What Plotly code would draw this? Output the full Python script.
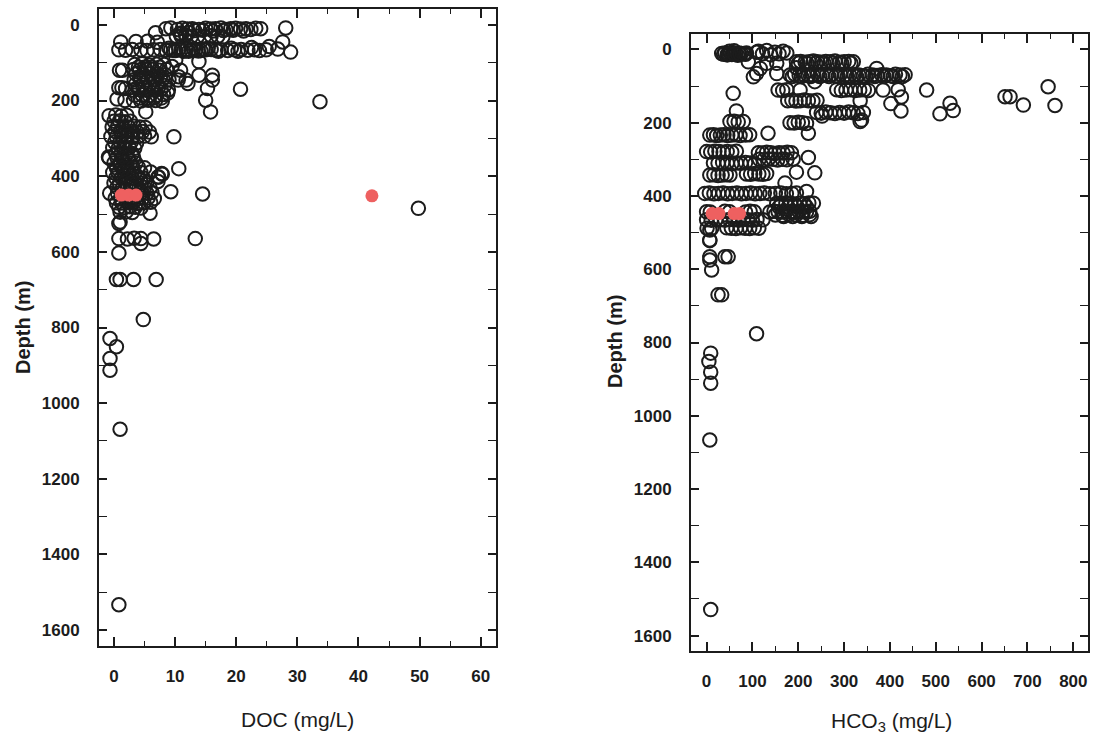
import plotly.graph_objects as go

# ---- DOC profile (left panel) ----
doc_mgL = [
    # near-surface rows
    8.5, 9.3, 10.4, 11.2, 12.0, 12.8, 13.9, 15.0, 15.8, 16.6, 17.5, 18.3, 19.1, 19.9, 20.7, 21.6, 22.4, 23.2, 24.0, 28.1,
    13.2, 14.5, 16.2, 17.9, 19.5, 21.2, 10.9, 11.7,
    6.8, 10.8, 12.2,
    10.2, 11.0, 11.8, 12.6, 13.7, 14.8, 15.9, 17.0, 17.8,
    1.1, 3.6, 5.5, 7.1, 27.6,
    0.8, 1.9, 3.0, 4.4, 5.4, 6.5, 7.6, 8.5, 9.3, 10.1, 11.0, 11.8, 12.6, 13.4, 14.2, 15.0, 15.9, 16.7, 17.5, 18.6,
    19.7, 20.8, 21.9, 23.0, 23.8, 24.9, 26.8, 28.9,
    9.8, 10.6, 12.2, 13.0, 13.8, 14.6, 22.5, 25.4,
    9.0, 11.4, 15.4, 17.1, 19.2, 20.3,
    # 100-220 m block
    3.4, 4.6, 5.8, 7.0, 8.2,
    3.2, 4.2, 5.2, 6.3, 7.4, 8.6,
    3.6, 4.8, 6.0, 7.2, 8.4,
    3.3, 4.4, 5.6, 6.8, 8.0, 9.0,
    3.5, 4.7, 5.9, 7.1, 8.3,
    3.0, 4.1, 5.3, 6.5, 7.7, 8.9,
    3.4, 4.6, 5.8, 7.0, 8.1,
    3.2, 4.4, 5.6, 6.8, 7.9,
    4.0, 5.0, 6.1, 7.5, 4.2, 5.3, 6.4, 7.6, 3.9, 5.1, 6.2, 7.3, 4.3, 5.5, 6.6, 7.8,
    0.9, 1.4, 0.8, 1.3, 1.9, 0.5, 1.8,
    10.1, 10.9, 10.6, 12.1, 13.9, 13.9, 16.1, 16.1, 15.3, 15.0, 15.8, 20.7, 5.2, 33.7, 11.8, 10.5, 9.5, 8.8,
    # 240-500 m column
    -0.8, 0.3, 1.2, 2.1,
    0.0, 0.9, 1.8, 2.7,
    -0.3, 0.6, 1.5, 2.4, 3.3, 4.2, 5.1,
    0.2, 1.1, 2.0, 2.9, 3.8, 4.7, 5.8,
    -0.5, 0.4, 1.3, 2.2, 3.1, 4.0, 5.0, 6.1,
    0.1, 1.0, 1.9, 2.8, 3.7,
    -0.2, 0.7, 1.6, 2.5, 3.4,
    0.3, 1.2, 2.1, 3.0,
    -0.8, 0.5, 1.4, 2.3, 3.2,
    0.0, 0.9, 1.8, 2.7, 3.6,
    0.4, 1.3, 2.2, 3.1, 4.0, 5.0,
    -0.2, 0.7, 1.6, 2.5, 3.4, 4.4, 6.0,
    0.3, 1.2, 2.1, 3.0, 3.9, 4.8, 7.2,
    0.0, 0.9, 1.8, 2.7, 3.6, 4.5, 5.4,
    0.5, 1.4, 2.3, 3.2, 4.1, 5.0, 5.9,
    -0.7, 0.6, 4.5, 5.4, 6.2,
    0.2, 1.1, 2.0, 2.9, 3.8, 4.7, 5.6, 6.6,
    0.4, 1.3, 2.2, 3.1, 4.0, 4.9, 6.0,
    0.8, 1.7, 2.6, 3.5, 4.4,
    1.0, 2.0, 3.0, 5.9,
    9.8, 10.6, 9.3, 14.5, 7.9, 7.3, 7.8, 7.2, 49.8, -0.9,
    # deeper samples
    0.8, 1.0,
    0.8, 2.2, 3.3, 4.4, 6.5, 13.3, 4.4, 0.8,
    0.4, 1.0, 3.2, 6.9,
    4.8, -0.65, 0.4, -0.65, -0.65, 1.0, 0.8,
]
doc_depth_m = [
    10, 8, 12, 9, 11, 10, 12, 9, 11, 10, 8, 12, 10, 9, 11, 10, 12, 9, 10, 8,
    15, 14, 16, 15, 14, 16, 24, 26,
    21, 22, 20,
    30, 31, 29, 32, 30, 31, 29, 30, 32,
    45, 44, 43, 46, 45,
    66, 67, 65, 66, 68, 66, 65, 67, 66, 68, 66, 65, 67, 66, 68, 66, 65, 67, 66, 68,
    66, 65, 67, 66, 68, 66, 64, 72,
    68, 64, 70, 63, 69, 64, 60, 57,
    62, 70, 62, 70, 62, 70,
    105, 103, 106, 104, 105,
    118, 119, 117, 118, 120, 118,
    130, 131, 129, 130, 132,
    145, 144, 146, 145, 143, 145,
    158, 159, 157, 158, 160,
    172, 171, 173, 172, 170, 172,
    186, 185, 187, 186, 184,
    200, 201, 199, 200, 202,
    112, 112, 112, 112, 138, 138, 138, 138, 165, 165, 165, 165, 193, 193, 193, 193,
    120, 120, 166, 166, 168, 196, 200,
    93, 120, 137, 155, 97, 133, 133, 146, 168, 199, 230, 170, 230, 203, 146, 146, 110, 180,
    240, 238, 241, 239,
    255, 254, 256, 255,
    270, 269, 271, 270, 268, 270, 271,
    282, 283, 281, 282, 284, 282, 283,
    295, 296, 294, 295, 297, 295, 294, 296,
    310, 309, 311, 310, 312,
    325, 326, 324, 325, 326,
    340, 339, 341, 340,
    352, 351, 353, 352, 350,
    365, 366, 364, 365, 366,
    378, 377, 379, 378, 376, 378,
    390, 391, 389, 390, 392, 390, 389,
    405, 404, 406, 405, 403, 405, 402,
    418, 419, 417, 418, 420, 418, 417,
    430, 431, 429, 430, 432, 430, 431,
    445, 446, 444, 445, 443,
    458, 459, 457, 458, 460, 458, 457, 459,
    470, 471, 469, 470, 472, 470, 469,
    482, 483, 481, 482, 484,
    495, 494, 496, 498,
    296, 380, 441, 447, 395, 402, 393, 414, 485, 349,
    525, 521,
    565, 566, 564, 565, 566, 565, 578, 603,
    673, 673, 673, 673,
    779, 829, 851, 882, 913, 1069, 1533,
]
doc_hl_mgL = [1.2, 2.4, 3.6, 42.2]
doc_hl_depth_m = [450, 450, 450, 452]

# ---- HCO3 profile (right panel) ----
hco3_mgL = [
    33, 40, 46, 52, 58, 64, 70, 76, 82, 87, 50, 60, 45, 55, 68,
    37, 49, 61, 73, 85,
    109, 113, 122, 131, 140, 149, 158, 167, 175,
    91, 102, 109, 117, 131, 153, 153,
    196, 205, 215, 224, 233, 242, 251, 260, 270, 280, 290, 300, 310, 320,
    200, 219, 238, 256, 275, 295, 315,
    196,
    182, 192, 202, 212, 222, 232, 242, 252, 262, 272, 282, 292, 302, 312, 322, 332, 342, 352, 362, 372,
    382, 392, 402, 412, 422, 433,
    187, 207, 227, 247, 267, 287, 307, 327, 347, 367, 387, 407, 427,
    371, 236,
    156, 166, 175, 204, 284, 294, 304, 314, 324, 334, 344, 353, 385, 418, 480,
    745, 651, 662, 691, 760, 509, 531, 538, 425, 402, 424, 58,
    177, 186, 195, 204, 213, 222, 232, 241, 335,
    240, 250, 260, 270, 280, 290, 300, 310, 320, 330, 342, 252, 338, 335,
    182, 191, 200, 209, 218, 222,
    65, 134,
    # shallow-intermediate wells
    51, 60, 69, 80,
    7, 15, 22, 30, 38, 46, 55, 64, 73, 85, 94,
    0, 9, 18, 27, 36, 45, 55, 65,
    113, 122, 131, 140, 149, 158, 167, 176, 185,
    115, 125, 135, 145, 155, 165, 175, 189, 222,
    15, 25, 35, 45, 55, 65, 75, 85, 95, 105,
    7, 16, 25, 34, 43, 51,
    87, 96, 105, 114, 123, 131, 196, 236,
    171,
    -4, 6, 16, 26, 36, 46, 56, 66, 76, 86, 96, 106, 116, 126, 138, 150, 162, 174, 186, 196, 218,
    153, 163, 173, 183, 193, 203, 213, 223, 233,
    158, 178, 198, 218, 168, 188, 208, 228,
    0, 8, 40, 50, 85, 95, 104, 138, 147, 156, 165, 174, 183, 192, 201, 210, 218, 225,
    150, 165, 180, 195, 210, 225,
    0, 10, 20, 30, 40, 50, 60, 70, 80, 90, 100, 110, 123,
    1, 11, 44, 54, 64, 74, 84, 94, 104, 114,
    7, 7, 7,
    # deeper samples
    7, 40, 47, 7, 11, 25, 33, 109, 9, 5, 9, 9, 7, 9,
]
hco3_depth_m = [
    11, 10, 12, 11, 9, 12, 10, 11, 12, 10, 5, 4, 15, 14, 16,
    13, 13, 13, 13, 13,
    8, 5, 12, 3, 15, 8, 12, 5, 10,
    34, 75, 66, 52, 38, 38, 66,
    34, 33, 35, 34, 32, 34, 35, 33, 34, 32, 35, 34, 33, 34,
    38, 38, 38, 38, 38, 38, 38,
    50,
    70, 68, 71, 69, 72, 70, 68, 71, 69, 70, 72, 68, 70, 71, 69, 70, 72, 68, 70, 71,
    69, 70, 72, 68, 70, 69,
    74, 74, 74, 74, 74, 74, 74, 74, 74, 74, 74, 74, 74,
    52, 88,
    111, 112, 110, 111, 110, 112, 111, 110, 112, 111, 110, 112, 111, 110, 111,
    102, 129, 129, 152, 153, 176, 147, 167, 130, 148, 168, 120,
    140, 139, 141, 140, 138, 140, 141, 139, 140,
    172, 174, 171, 173, 175, 172, 174, 171, 173, 175, 172, 182, 193, 197,
    200, 201, 199, 200, 202, 229,
    168, 229,
    197, 196, 198, 197,
    234, 233, 235, 234, 233, 235, 234, 233, 235, 234, 233,
    279, 280, 278, 279, 281, 279, 280, 278,
    282, 283, 281, 282, 284, 282, 283, 281, 282,
    300, 301, 299, 300, 302, 300, 301, 299, 295,
    310, 311, 309, 310, 312, 310, 311, 309, 310, 312,
    343, 342, 344, 343, 342, 343,
    340, 341, 339, 340, 341, 339, 335, 337,
    365,
    393, 392, 394, 393, 392, 394, 393, 392, 394, 393, 392, 394, 393, 392, 394, 393, 392, 394, 393, 392, 388,
    420, 421, 419, 420, 422, 420, 421, 419, 420,
    430, 430, 430, 430, 456, 456, 456, 456,
    443, 444, 442, 443, 444, 442, 443, 444, 442, 443, 444, 442, 443, 444, 442, 443, 444, 442,
    452, 453, 451, 452, 453, 451,
    465, 466, 464, 465, 466, 464, 465, 466, 464, 465, 466, 464, 465,
    488, 489, 487, 488, 489, 487, 488, 489, 487, 488,
    493, 520, 522,
    566, 566, 566, 575, 602, 670, 670, 776, 829, 852, 881, 911, 1066, 1529,
]
hco3_hl_mgL = [12, 27, 60, 72]
hco3_hl_depth_m = [448, 448, 448, 448]

depth_ticks = [0, 200, 400, 600, 800, 1000, 1200, 1400, 1600]
doc_ticks = [0, 10, 20, 30, 40, 50, 60]
hco3_ticks = [0, 100, 200, 300, 400, 500, 600, 700, 800]

INK = "#1c1c1c"
RED = "#ee6060"
W, H = 1093, 738

open_marker = dict(symbol="circle-open", size=13.5, color=INK, line=dict(width=2.0, color=INK))
red_marker = dict(symbol="circle", size=13, color=RED, line=dict(width=0))

fig = go.Figure()
fig.add_trace(go.Scatter(x=doc_mgL, y=doc_depth_m, mode="markers", marker=open_marker,
                         xaxis="x", yaxis="y", showlegend=False))
fig.add_trace(go.Scatter(x=doc_hl_mgL, y=doc_hl_depth_m, mode="markers", marker=red_marker,
                         xaxis="x", yaxis="y", showlegend=False))
fig.add_trace(go.Scatter(x=hco3_mgL, y=hco3_depth_m, mode="markers", marker=open_marker,
                         xaxis="x2", yaxis="y2", showlegend=False))
fig.add_trace(go.Scatter(x=hco3_hl_mgL, y=hco3_hl_depth_m, mode="markers", marker=red_marker,
                         xaxis="x2", yaxis="y2", showlegend=False))

tick_font = dict(family="Liberation Sans, Arial, sans-serif", size=17, color=INK, weight="bold")


def px_x(p):
    return p / W


def px_y(p):
    return 1 - p / H


def xaxis_style(domain, rng, ticks, minor_dtick, anchor):
    return dict(
        domain=domain, range=rng, anchor=anchor,
        tickmode="array", tickvals=ticks, ticktext=[str(t) for t in ticks],
        ticks="inside", ticklen=9, tickwidth=1.6, tickcolor=INK,
        minor=dict(ticks="inside", dtick=minor_dtick, tick0=0, ticklen=5, tickwidth=1.4, tickcolor=INK),
        showline=True, linecolor=INK, linewidth=2, mirror="allticks",
        showgrid=False, zeroline=False, tickfont=tick_font, ticklabelstandoff=14,
    )


def yaxis_style(domain, anchor):
    return dict(
        domain=domain, range=[1642, -42], anchor=anchor,
        tickmode="array", tickvals=depth_ticks, ticktext=[str(t) for t in depth_ticks],
        ticks="inside", ticklen=8, tickwidth=1.6, tickcolor=INK,
        minor=dict(ticks="inside", dtick=100, tick0=0, ticklen=8, tickwidth=1.4, tickcolor=INK),
        showline=True, linecolor=INK, linewidth=2, mirror="allticks",
        showgrid=False, zeroline=False, tickfont=tick_font, ticklabelstandoff=14,
    )


fig.update_layout(
    width=W, height=H,
    margin=dict(l=0, r=0, t=0, b=0),
    paper_bgcolor="white", plot_bgcolor="white",
    xaxis=xaxis_style([px_x(99), px_x(496)], [-2.45, 62.5], doc_ticks, 5, "y"),
    yaxis=yaxis_style([px_y(646), px_y(9)], "x"),
    xaxis2=xaxis_style([px_x(691), px_x(1088)], [-34, 832], hco3_ticks, 50, "y2"),
    yaxis2=yaxis_style([px_y(651), px_y(34)], "x2"),
)

title_font = dict(family="Liberation Sans, Arial, sans-serif", size=21, color=INK)
ylab_font = dict(family="Liberation Sans, Arial, sans-serif", size=20, color=INK, weight="bold")

fig.add_annotation(text="DOC (mg/L)", x=px_x(297), y=px_y(719), xref="paper", yref="paper",
                   showarrow=False, font=title_font, xanchor="center", yanchor="middle")
fig.add_annotation(text="HCO<sub>3</sub> (mg/L)", x=px_x(891), y=px_y(722), xref="paper", yref="paper",
                   showarrow=False, font=title_font, xanchor="center", yanchor="middle")
fig.add_annotation(text="Depth (m)", x=px_x(23), y=px_y(328), xref="paper", yref="paper",
                   showarrow=False, font=ylab_font, textangle=-90, xanchor="center", yanchor="middle")
fig.add_annotation(text="Depth (m)", x=px_x(615), y=px_y(342), xref="paper", yref="paper",
                   showarrow=False, font=ylab_font, textangle=-90, xanchor="center", yanchor="middle")

fig.write_html("out.html")
